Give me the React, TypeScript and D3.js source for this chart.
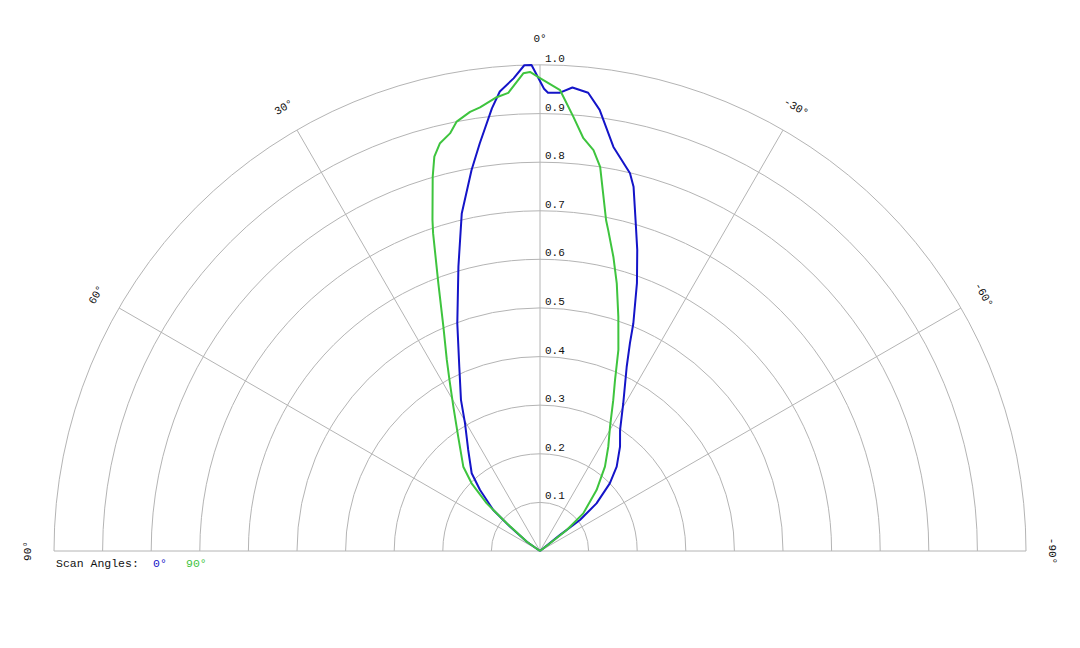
import React from 'react';
import * as d3 from 'd3';

// scan 0° curve: [angle in degrees (positive to the left), relative intensity]
const scan0Angles = [
  -58, -51.3, -52.2, -49.9, -45.9, -42.3, -37.5, -33.5, -29.4, -25.2, -23.4, -22.3,
  -19.9, -17.9, -16.1, -14.4, -13.4, -10.3, -7.7, -6.0, -4.0, -2.5, -1.0, -0.5,
  1.0, 1.85, 3.2, 5.0, 6.2, 8.4, 10.2, 13.05, 16.0, 19.96, 23.65, 27.6, 30.4,
  35.4, 41.3, 44.5, 48.7, 51.0, 55, 58,
];
const scan0Values = [
  0, 0.053, 0.104, 0.152, 0.2, 0.2345, 0.2705, 0.2985, 0.349, 0.419, 0.466, 0.506,
  0.586, 0.651, 0.709, 0.774, 0.799, 0.845, 0.916, 0.948, 0.956, 0.944, 0.943, 0.951,
  1.0, 1.0, 0.974, 0.949, 0.916, 0.848, 0.796, 0.713, 0.609, 0.4985, 0.414, 0.351, 0.305,
  0.255, 0.213, 0.176, 0.128, 0.079, 0.033, 0,
];

// scan 90° curve
const scan90Angles = [
  -58, -52.4, -51.8, -49.0, -42.9, -37.6, -33.2, -29.4, -25.9, -23.7, -21.3, -18.5,
  -16.0, -14.0, -12.0, -11.3, -10.0, -8.9, -7.6, -6.0, -4.4, -2.5, 0, 1.2, 2.0,
  3.96, 5.45, 7.7, 9.05, 10.98, 12.16, 13.78, 15.0, 16.0, 18.0, 18.6, 20.8, 23.3,
  26.0, 27.9, 31.0, 35.6, 42.3, 45.3, 48.2, 50.2, 55, 58,
];
const scan90Values = [
  0, 0.026, 0.07, 0.118, 0.171, 0.219, 0.2566, 0.2935, 0.345, 0.384, 0.444, 0.508,
  0.573, 0.624, 0.675, 0.694, 0.7475, 0.8, 0.832, 0.854, 0.896, 0.949, 0.973, 0.986, 0.9835,
  0.945, 0.938, 0.921, 0.915, 0.9, 0.879, 0.864, 0.84, 0.801, 0.716, 0.6895, 0.589, 0.5026,
  0.4374, 0.398, 0.346, 0.289, 0.2345, 0.198, 0.147, 0.089, 0.033, 0,
];

const ringTicks = [0.1, 0.2, 0.3, 0.4, 0.5, 0.6, 0.7, 0.8, 0.9, 1.0];
const angleTicks = [90, 60, 30, 0, -30, -60, -90];
const legendLabels = ['0°', '90°'];

const width = 1080;
const height = 648;
const cx = 540;
const cy = 551;
const outerR = 486;
const gridColor = '#b4b4b4';
const textColor = '#111';
const blue = '#1414c8';
const green = '#3ec43e';
const mono = '"Liberation Mono", "DejaVu Sans Mono", monospace';

const App: React.FC = () => {
  const rScale = d3.scaleLinear().domain([0, 1]).range([0, outerR]);
  const toRad = (deg: number) => (deg * Math.PI) / 180;

  // 0° is straight up, positive angles go to the left
  const radial = d3
    .lineRadial<[number, number]>()
    .angle((d) => -toRad(d[0]))
    .radius((d) => rScale(d[1]))
    .curve(d3.curveLinear);

  const scan0 = scan0Angles.map((a, i) => [a, scan0Values[i]] as [number, number]);
  const scan90 = scan90Angles.map((a, i) => [a, scan90Values[i]] as [number, number]);

  const ringPath = (r: number) => {
    const p = d3.path();
    p.arc(0, 0, rScale(r), Math.PI, 2 * Math.PI);
    return p.toString();
  };

  const labelR = outerR + 26;

  return (
    <div style={{ position: 'absolute', left: 0, top: 0 }}>
      <svg width={width} height={height} style={{ display: 'block', background: '#fff' }}>
        <g transform={`translate(${cx},${cy})`}>
          {/* rings */}
          {ringTicks.map((t) => (
            <path key={t} d={ringPath(t)} fill="none" stroke={gridColor} strokeWidth={1} />
          ))}
          {/* spokes */}
          {angleTicks.map((a) => (
            <line
              key={a}
              x1={0}
              y1={0}
              x2={-rScale(1) * Math.sin(toRad(a))}
              y2={-rScale(1) * Math.cos(toRad(a))}
              stroke={gridColor}
              strokeWidth={1}
            />
          ))}
          {/* ring labels */}
          {ringTicks.map((t) => (
            <text
              key={`l${t}`}
              x={5}
              y={-rScale(t) - 3}
              fontFamily={mono}
              fontSize={11}
              fill={textColor}
            >
              {t.toFixed(1)}
            </text>
          ))}
          {/* angle labels */}
          {angleTicks.map((a) => {
            const x = -labelR * Math.sin(toRad(a));
            const y = -labelR * Math.cos(toRad(a));
            return (
              <text
                key={`a${a}`}
                transform={`translate(${x},${y}) rotate(${-a})`}
                textAnchor="middle"
                dominantBaseline="central"
                fontFamily={mono}
                fontSize={11}
                fill={textColor}
              >
                {`${a}°`}
              </text>
            );
          })}
          {/* curves */}
          <path d={radial(scan0) || ''} fill="none" stroke={blue} strokeWidth={2} strokeLinejoin="round" />
          <path d={radial(scan90) || ''} fill="none" stroke={green} strokeWidth={2} strokeLinejoin="round" />
        </g>
        {/* legend */}
        <text x={56} y={567} fontFamily={mono} fontSize={11.5} fill={textColor}>
          Scan Angles:
        </text>
        <text x={153} y={567} fontFamily={mono} fontSize={11.5} fill={blue}>
          {legendLabels[0]}
        </text>
        <text x={186} y={567} fontFamily={mono} fontSize={11.5} fill={green}>
          {legendLabels[1]}
        </text>
      </svg>
    </div>
  );
};

export default App;
